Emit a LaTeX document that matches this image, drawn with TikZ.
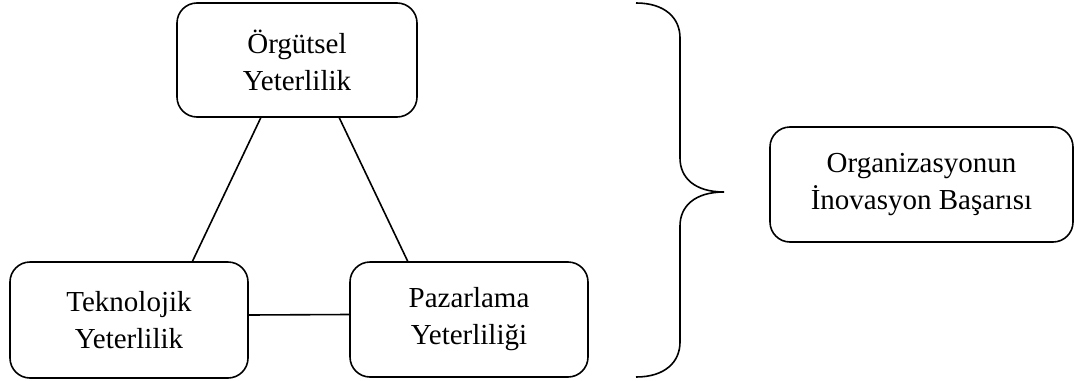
\documentclass[tikz,border=0pt]{standalone}
\usepackage{fontspec}
\setmainfont{Liberation Serif}
\usetikzlibrary{calc}
\begin{document}
\begin{tikzpicture}[x=1pt,y=-1pt,
  box/.style={draw, line width=1.6pt, rounded corners=20pt, align=center,
    font=\fontsize{29}{37}\selectfont, inner sep=0pt},
  link/.style={line width=1.6pt},
  bracepath/.style={line width=1.6pt}]
\useasboundingbox (0,0) rectangle (1075,380);

% the three competences
\node[box, minimum width=240pt, minimum height=114pt] (org) at (297,60) {Örgütsel\\Yeterlilik};
\node[box, minimum width=238pt, minimum height=116pt] (tek) at (129,320) {Teknolojik\\Yeterlilik};
\node[box, minimum width=238pt, minimum height=115pt] (paz) at (469,319.5) {Pazarlama\\Yeterliliği};

% outcome
\node[box, minimum width=303pt, minimum height=115pt] (ino) at (921.5,184.5) {Organizasyonun\\İnovasyon Başarısı};

% triangle of links
\draw[link] ($(org.south west)!0.35!(org.south east)$) -- ($(tek.north west)!0.765!(tek.north east)$);
\draw[link] ($(org.south west)!0.675!(org.south east)$) -- ($(paz.north west)!0.244!(paz.north east)$);
\draw[link] ([yshift=5pt]tek.east) -- ([yshift=5pt]paz.west);

% curly brace
\coordinate (bt) at (636,3);
\coordinate (bb) at (636,377);
\coordinate (tip) at (724,192);
\draw[bracepath] (bt) .. controls (665,3) and (680,18) .. (680,38)
  -- (680,158) .. controls (680,178) and (695,192) .. (tip)
  .. controls (695,192) and (680,206) .. (680,226)
  -- (680,342) .. controls (680,362) and (665,377) .. (bb);
\end{tikzpicture}
\end{document}
